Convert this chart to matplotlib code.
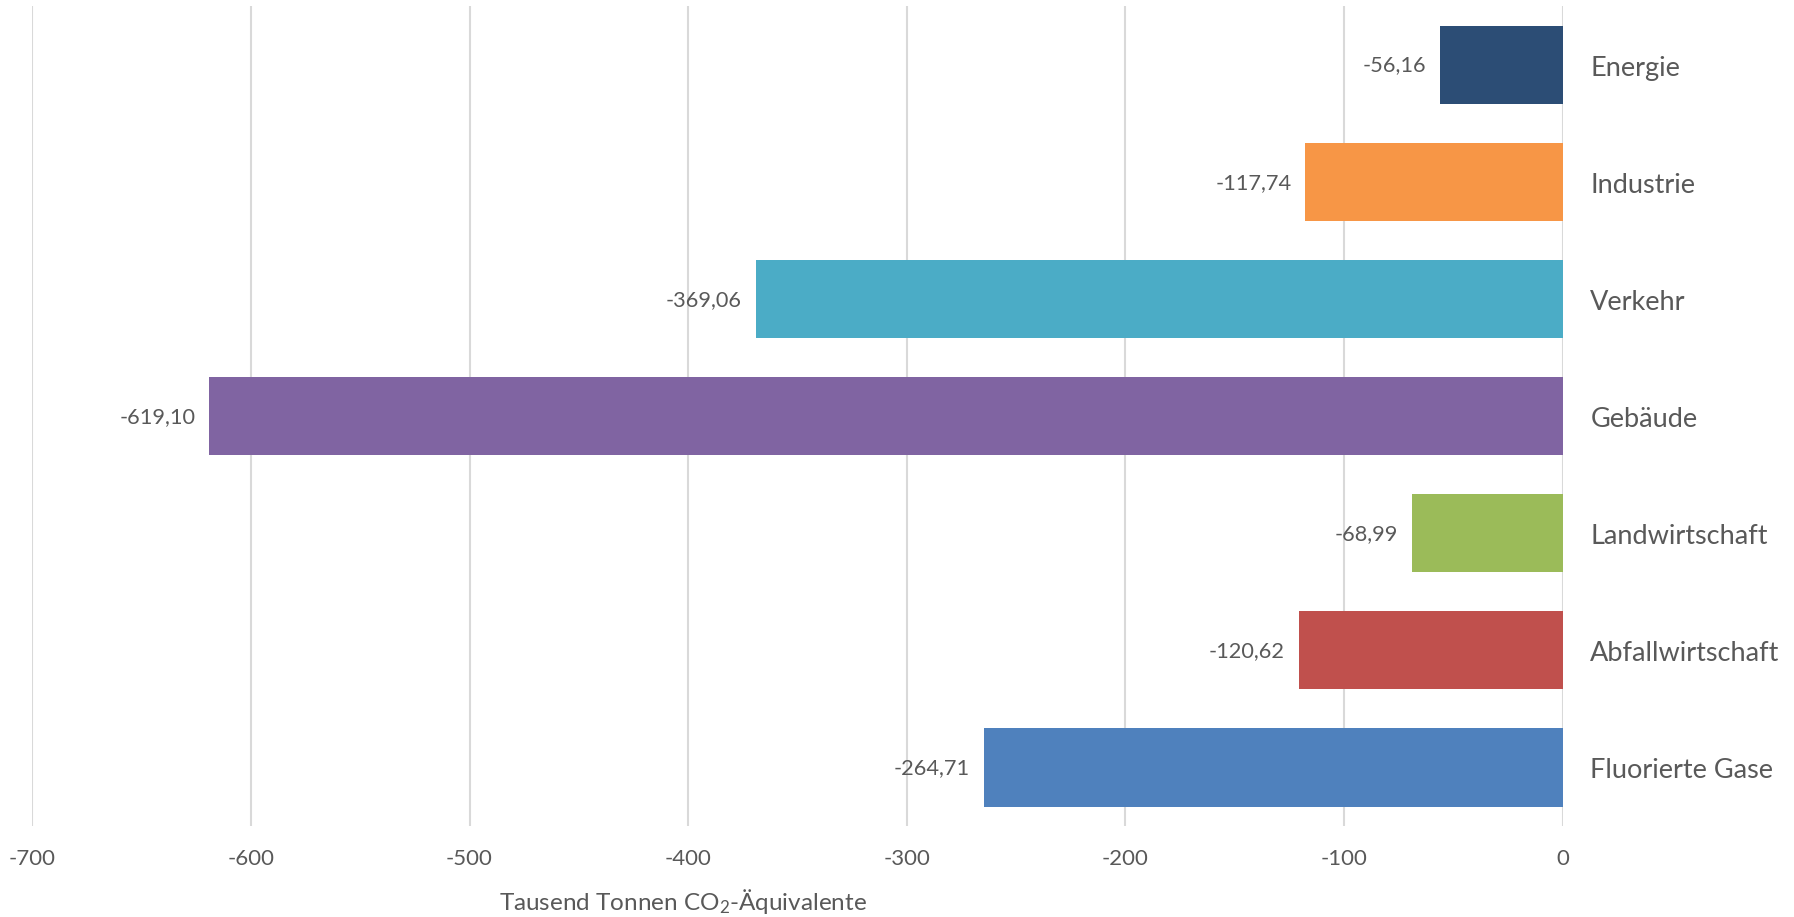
import matplotlib
matplotlib.use("Agg")
import matplotlib.pyplot as plt
from matplotlib.ticker import FuncFormatter

categories = ["Energie", "Industrie", "Verkehr", "Gebäude", "Landwirtschaft",
              "Abfallwirtschaft", "Fluorierte Gase"]
values = [-56.16, -117.74, -369.06, -619.10, -68.99, -120.62, -264.71]
colors = ["#2C4D75", "#F79646", "#4BACC6", "#8064A2", "#9BBB59", "#C0504D", "#4F81BD"]
xticks = [-700, -600, -500, -400, -300, -200, -100, 0]
xlabel = "Tausend Tonnen CO$_2$-Äquivalente"

plt.rcParams['font.family'] = ['Lato', 'DejaVu Sans']
plt.rcParams['mathtext.fontset'] = 'custom'
plt.rcParams['mathtext.rm'] = 'Lato'
plt.rcParams['mathtext.it'] = 'Lato'
plt.rcParams['mathtext.default'] = 'regular'

txt = "#595959"
fig = plt.figure(figsize=(17.94, 9.179), dpi=100)
ax = fig.add_axes([0.018, 0.0991, 0.853, 0.8933])

ypos = list(range(len(categories)))
ax.barh(ypos, values, height=0.667, color=colors, zorder=3)
ax.set_ylim(len(categories) - 0.5, -0.5)
ax.set_xlim(-700, 0)
ax.set_xticks(xticks)
ax.xaxis.set_major_formatter(FuncFormatter(lambda v, p: f"{int(v)}"))
ax.grid(axis='x', color='#d9d9d9', linewidth=1.5, zorder=0)
for s in ax.spines.values():
    s.set_visible(False)
ax.tick_params(axis='x', length=0, pad=16, labelsize=16, labelcolor=txt)
ax.yaxis.tick_right()
ax.set_yticks(ypos)
ax.set_yticklabels(categories)
ax.tick_params(axis='y', length=0, pad=20, labelsize=19.5, labelcolor=txt)

for y, v in zip(ypos, values):
    ax.annotate(f"{v:.2f}".replace('.', ','), xy=(v, y), xytext=(-10, 0),
                textcoords='offset points', ha='right', va='center',
                fontsize=15.7, color=txt)

fig.text(683 / 1794, 1 - 902 / 918, xlabel, ha='center', va='center',
         fontsize=17.5, color=txt)

fig.savefig("out.png", dpi=100, facecolor='white')
